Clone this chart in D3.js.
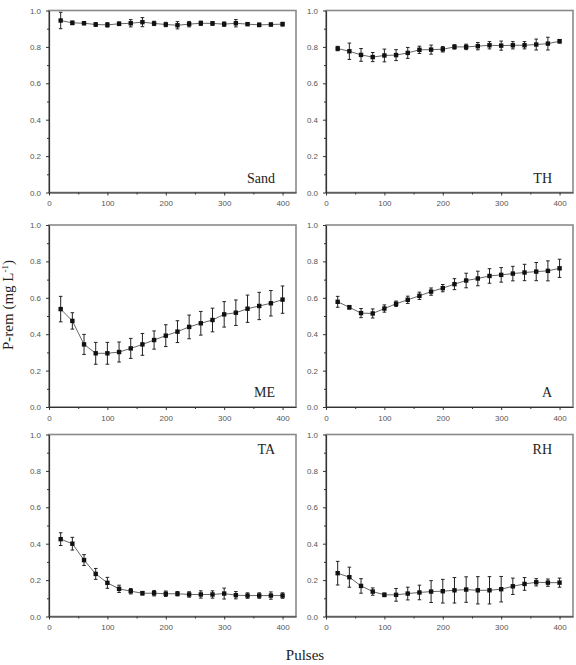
<!DOCTYPE html>
<html>
<head>
<meta charset="utf-8">
<script src="https://cdn.jsdelivr.net/npm/d3@7"></script>
<style>
  body { margin: 0; background: #fff; }
  .axis text { font-family: "Liberation Sans", Arial, sans-serif; font-size: 8px; fill: #555; }
  .axis path, .axis line { stroke: #333; }
  .panel-label { font-family: "Liberation Serif", "Times New Roman", serif; font-size: 14px; fill: #222; }
  .title { font-family: "Liberation Serif", "Times New Roman", serif; font-size: 15px; fill: #222; }
</style>
</head>
<body>
<div id="chart"></div>
<script>
// CONST and GLOBALS
let width = 576;
let height = 665;

// pulses (x values)
let pulses = [20, 40, 60, 80, 100, 120, 140, 160, 180, 200, 220, 240, 260, 280, 300, 320, 340, 360, 380, 400];

// P-rem means and error bars for each soil
let sand = [0.945, 0.932, 0.930, 0.923, 0.921, 0.927, 0.930, 0.936, 0.929, 0.923, 0.919, 0.925, 0.930, 0.929, 0.925, 0.930, 0.925, 0.921, 0.923, 0.925];
let sandErr = [0.045, 0.01, 0.008, 0.01, 0.012, 0.01, 0.02, 0.025, 0.012, 0.012, 0.02, 0.015, 0.012, 0.01, 0.012, 0.02, 0.008, 0.01, 0.008, 0.01];

let th = [0.791, 0.776, 0.756, 0.744, 0.753, 0.755, 0.767, 0.784, 0.785, 0.787, 0.800, 0.800, 0.804, 0.809, 0.807, 0.809, 0.809, 0.813, 0.818, 0.831];
let thErr = [0.012, 0.045, 0.035, 0.025, 0.035, 0.03, 0.03, 0.02, 0.025, 0.015, 0.012, 0.015, 0.02, 0.02, 0.025, 0.02, 0.02, 0.03, 0.035, 0.01];

let me = [0.538, 0.473, 0.344, 0.295, 0.295, 0.302, 0.322, 0.344, 0.368, 0.392, 0.414, 0.440, 0.460, 0.478, 0.509, 0.518, 0.540, 0.555, 0.570, 0.590];
let meErr = [0.07, 0.045, 0.055, 0.06, 0.06, 0.055, 0.055, 0.06, 0.05, 0.06, 0.06, 0.065, 0.065, 0.065, 0.07, 0.07, 0.075, 0.075, 0.07, 0.075];

let a = [0.578, 0.548, 0.516, 0.514, 0.541, 0.567, 0.589, 0.611, 0.634, 0.653, 0.675, 0.695, 0.706, 0.720, 0.726, 0.733, 0.739, 0.744, 0.748, 0.762];
let aErr = [0.03, 0.01, 0.025, 0.025, 0.02, 0.015, 0.02, 0.02, 0.02, 0.02, 0.03, 0.04, 0.04, 0.04, 0.04, 0.04, 0.045, 0.05, 0.055, 0.05];

let ta = [0.425, 0.400, 0.310, 0.234, 0.185, 0.152, 0.139, 0.128, 0.128, 0.125, 0.125, 0.121, 0.121, 0.121, 0.126, 0.117, 0.115, 0.115, 0.115, 0.115];
let taErr = [0.035, 0.035, 0.03, 0.03, 0.03, 0.02, 0.015, 0.01, 0.015, 0.015, 0.012, 0.015, 0.02, 0.02, 0.03, 0.02, 0.015, 0.015, 0.02, 0.015];

let rh = [0.238, 0.216, 0.168, 0.137, 0.119, 0.119, 0.126, 0.132, 0.137, 0.139, 0.144, 0.148, 0.144, 0.144, 0.150, 0.166, 0.179, 0.188, 0.186, 0.186];
let rhErr = [0.065, 0.055, 0.04, 0.02, 0.01, 0.035, 0.035, 0.04, 0.06, 0.065, 0.07, 0.07, 0.075, 0.075, 0.07, 0.045, 0.035, 0.02, 0.02, 0.025];

let xTicks = [0, 100, 200, 300, 400];
let xMinor = [50, 150, 250, 350];
let yTicks = [0, 0.2, 0.4, 0.6, 0.8, 1.0];
let yMinor = [0.1, 0.3, 0.5, 0.7, 0.9];

let panels = [
  { name: 'Sand', values: sand, err: sandErr, col: 0, row: 0, labelTop: false },
  { name: 'TH', values: th, err: thErr, col: 1, row: 0, labelTop: false },
  { name: 'ME', values: me, err: meErr, col: 0, row: 1, labelTop: false },
  { name: 'A', values: a, err: aErr, col: 1, row: 1, labelTop: false },
  { name: 'TA', values: ta, err: taErr, col: 0, row: 2, labelTop: true },
  { name: 'RH', values: rh, err: rhErr, col: 1, row: 2, labelTop: true },
];

// layout
let colX = [49, 326];
let rowY = [10.5, 225, 434.5];
let pw = 247;
let ph = 182;

let svg = d3
  .select('#chart')
  .append('svg')
  .attr('width', width)
  .attr('height', height);

panels.forEach(p => {
  let g = svg
    .append('g')
    .attr('transform', `translate(${colX[p.col]},${rowY[p.row]})`);

  let xScale = d3.scaleLinear().domain([0, 423]).range([0, pw]);
  let yScale = d3.scaleLinear().domain([0, 1]).range([ph, 0]);

  // frame (top and right are grey)
  g.append('rect')
    .attr('width', pw)
    .attr('height', ph)
    .attr('fill', 'none')
    .attr('stroke', '#8a8a8a')
    .attr('stroke-width', 1.6);

  // minor ticks
  g.append('g')
    .attr('class', 'axis')
    .attr('transform', `translate(0,${ph})`)
    .call(d3.axisBottom(xScale).tickValues(xMinor).tickSize(2).tickFormat(''))
    .call(s => s.select('.domain').remove());
  g.append('g')
    .attr('class', 'axis')
    .call(d3.axisLeft(yScale).tickValues(yMinor).tickSize(2).tickFormat(''))
    .call(s => s.select('.domain').remove());

  // major axes
  g.append('g')
    .attr('class', 'axis x-axis')
    .attr('transform', `translate(0,${ph})`)
    .call(d3.axisBottom(xScale).tickValues(xTicks).tickSizeInner(3).tickSizeOuter(0).tickPadding(5))
    .call(s => s.select('.domain').attr('stroke-width', 1.2));
  g.append('g')
    .attr('class', 'axis y-axis')
    .call(d3.axisLeft(yScale).tickValues(yTicks).tickSizeInner(3).tickSizeOuter(0).tickPadding(5).tickFormat(d3.format('.1f')))
    .call(s => s.select('.domain').attr('stroke-width', 1.2));

  let pts = pulses.map((x, i) => ({ x: x, y: p.values[i], e: p.err[i] }));

  // connecting line
  let line = d3
    .line()
    .x(d => xScale(d.x))
    .y(d => yScale(d.y));
  g.append('path')
    .datum(pts)
    .attr('d', line)
    .attr('fill', 'none')
    .attr('stroke', '#555')
    .attr('stroke-width', 0.9);

  // error bars
  let eb = g.selectAll('.err').data(pts).join('g').attr('class', 'err');
  eb.append('line')
    .attr('x1', d => xScale(d.x))
    .attr('x2', d => xScale(d.x))
    .attr('y1', d => yScale(d.y - d.e))
    .attr('y2', d => yScale(d.y + d.e))
    .attr('stroke', '#222')
    .attr('stroke-width', 1);
  eb.selectAll('.cap')
    .data(d => [d.y - d.e, d.y + d.e].map(v => ({ x: d.x, v: v })))
    .join('line')
    .attr('class', 'cap')
    .attr('x1', d => xScale(d.x) - 1.8)
    .attr('x2', d => xScale(d.x) + 1.8)
    .attr('y1', d => yScale(d.v))
    .attr('y2', d => yScale(d.v))
    .attr('stroke', '#222')
    .attr('stroke-width', 1);

  // square markers
  g.selectAll('.dot')
    .data(pts)
    .join('rect')
    .attr('class', 'dot')
    .attr('x', d => xScale(d.x) - 2.2)
    .attr('y', d => yScale(d.y) - 2.2)
    .attr('width', 4.4)
    .attr('height', 4.4)
    .attr('fill', '#111');

  // panel label
  g.append('text')
    .attr('class', 'panel-label')
    .attr('x', pw - 21)
    .attr('y', p.labelTop ? 19.5 : ph - 10)
    .attr('text-anchor', 'end')
    .text(p.name);
});

// axis titles
svg.append('text')
  .attr('class', 'title')
  .attr('transform', 'translate(13,305) rotate(-90)')
  .attr('text-anchor', 'middle')
  .html('P-rem (mg L<tspan dy="-5" font-size="9">-1</tspan><tspan dy="5">)</tspan>');

svg.append('text')
  .attr('class', 'title')
  .attr('x', 305)
  .attr('y', 660)
  .attr('text-anchor', 'middle')
  .text('Pulses');
</script>
</body>
</html>
